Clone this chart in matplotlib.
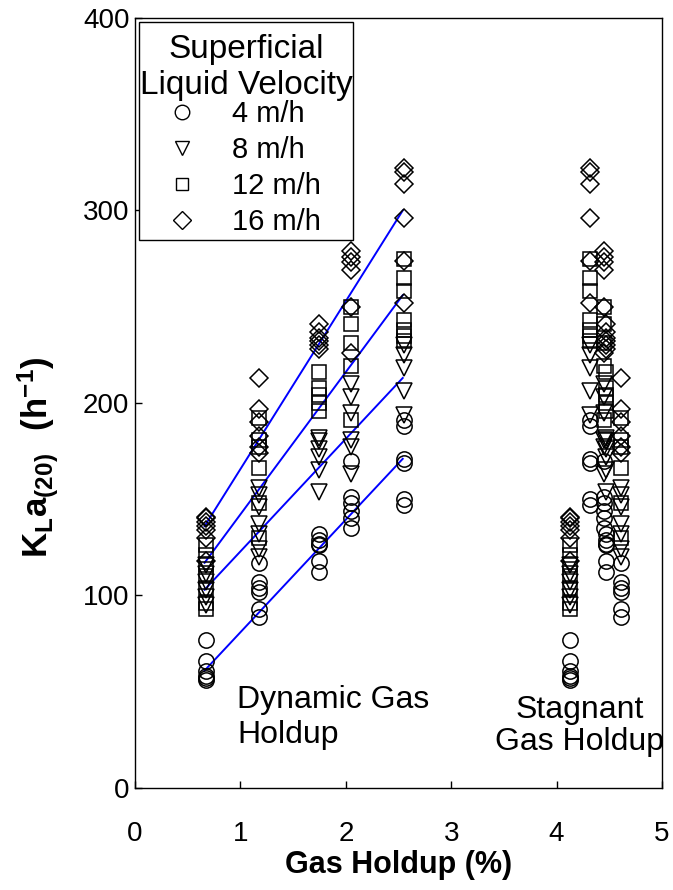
import numpy as np
import matplotlib
matplotlib.use('Agg')
import matplotlib.pyplot as plt
from matplotlib.patches import Rectangle

plt.rcParams['font.family'] = ['Liberation Sans', 'DejaVu Sans']
plt.rcParams['mathtext.fontset'] = 'custom'
plt.rcParams['mathtext.rm'] = 'Liberation Sans'
plt.rcParams['mathtext.bf'] = 'Liberation Sans:bold'

# dynamic gas holdup of each run group (%) and where the same runs sit on the stagnant axis
dyn_holdup = [0.67, 1.18, 1.75, 2.05, 2.55]
stag_holdup = [4.13, 4.61, 4.47, 4.45, 4.32]

# KLa(20) per velocity, one list per holdup group (h^-1)
kla_4 = [
    [77, 66, 61, 58, 57, 56],
    [117, 107, 104, 102, 93, 89],
    [132, 129, 127, 126, 118, 112],
    [170, 151, 148, 144, 140, 135],
    [191, 188, 171, 169, 150, 147],
]
kla_8 = [
    [116, 111, 107, 103, 99, 95],
    [156, 152, 146, 137, 132, 124, 120],
    [182, 180, 176, 172, 165, 154],
    [210, 203, 195, 181, 177, 163],
    [230, 225, 218, 206, 194],
]
kla_12 = [
    [126, 121, 116, 110, 104, 96, 93],
    [192, 181, 177, 166, 148, 130],
    [216, 208, 204, 200, 196],
    [250, 241, 231, 219, 191],
    [275, 265, 258, 243, 238, 235, 232],
]
kla_16 = [
    [141, 140, 138, 136, 134, 130, 118],
    [213, 197, 190, 183, 177, 174],
    [241, 237, 234, 232, 230, 228],
    [279, 276, 273, 269, 250, 226],
    [322, 320, 314, 296, 274, 252],
]

# fitted lines through the dynamic holdup data
fit_x = [0.66, 2.54]
fit_4 = [61, 171]
fit_8 = [103, 213]
fit_12 = [117, 256]
fit_16 = [136, 300]

series = [
    ('4 m/h', 'o', 11, kla_4, fit_4),
    ('8 m/h', 'v', 11, kla_8, fit_8),
    ('12 m/h', 's', 9.5, kla_12, fit_12),
    ('16 m/h', 'D', 9.5, kla_16, fit_16),
]

fig = plt.figure(figsize=(6.73, 8.9), dpi=100)
ax = fig.add_axes([0.2006, 0.1146, 0.7831, 0.8652])

handles = []
for label, marker, ms, groups, fit in series:
    ax.plot(fit_x, fit, color='#0000ff', lw=1.4, zorder=1)
    for xd, xs, vals in zip(dyn_holdup, stag_holdup, groups):
        ax.plot([xd] * len(vals), vals, ls='none', marker=marker, ms=ms,
                mfc='none', mec='black', mew=1.1, zorder=2)
        ax.plot([xs] * len(vals), vals, ls='none', marker=marker, ms=ms,
                mfc='none', mec='black', mew=1.1, zorder=2)
    h, = ax.plot([], [], ls='none', marker=marker, ms=ms * 0.95,
                 mfc='none', mec='black', mew=1.0, label=label)
    handles.append(h)

ax.set_xlim(0, 5)
ax.set_ylim(0, 400)
ax.set_xticks([0, 1, 2, 3, 4, 5])
ax.set_yticks([0, 100, 200, 300, 400])
ax.tick_params(direction='in', length=5, width=1, labelsize=20)
ax.tick_params(axis='x', pad=24)
ax.tick_params(axis='y', pad=4)
for sp in ax.spines.values():
    sp.set_linewidth(1)

ax.set_xlabel('Gas Holdup (%)', fontsize=22, fontweight='bold', labelpad=2)
ax.set_ylabel(r'$\mathbf{K_L a_{(20)}\ \ (h^{-1})}$', fontsize=25, labelpad=6)
ax.yaxis.set_label_coords(-0.14, 0.43)

ax.text(0.97, 20, 'Dynamic Gas\nHoldup', fontsize=23, ha='left', va='bottom',
        linespacing=1.2)
ax.text(4.22, 16, 'Stagnant\nGas Holdup', fontsize=23, ha='center', va='bottom',
        linespacing=1.1)

# legend: frame and title drawn by hand, entries from ax.legend
ax.add_patch(Rectangle((0.0085, 0.7117), 0.4052, 0.2831, transform=ax.transAxes,
                       fill=True, facecolor='white', edgecolor='black', lw=1,
                       zorder=4))
ax.text(0.2106, 0.9355, 'Superficial\nLiquid Velocity', transform=ax.transAxes,
        fontsize=24, ha='center', va='center', multialignment='center',
        linespacing=1.2, zorder=5)
leg = ax.legend(handles=handles, loc='upper left',
                bbox_to_anchor=(0.0342, 0.893), fontsize=21, frameon=False,
                borderpad=0, handletextpad=0.72, handlelength=2.0,
                labelspacing=0.27, borderaxespad=0)
leg.set_zorder(6)

fig.savefig('out.png', dpi=100)
